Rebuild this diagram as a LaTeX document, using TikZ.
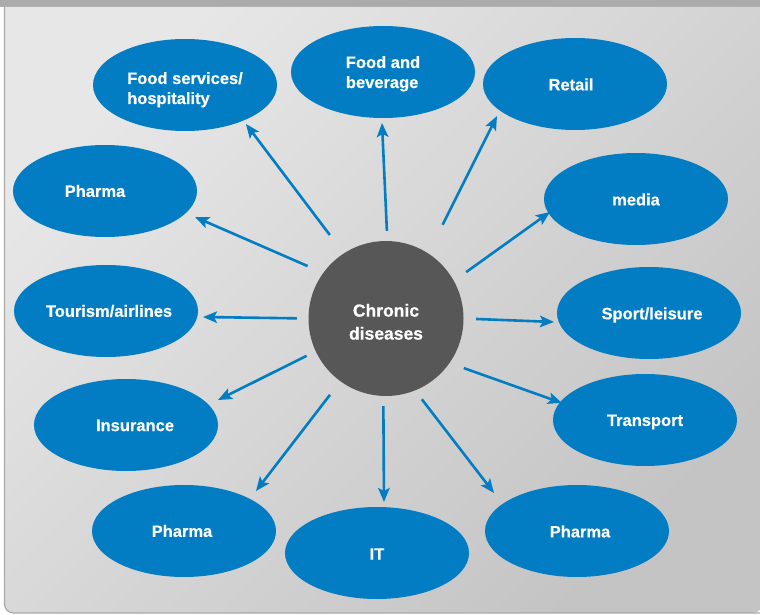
\documentclass[tikz,border=0pt]{standalone}
\usepackage{fontspec}
\setmainfont{Liberation Sans}[BoldFeatures={FakeBold=0.5}]
\usetikzlibrary{arrows.meta,shapes.geometric}
\definecolor{ovalblue}{HTML}{027DC3}
\definecolor{hubgray}{HTML}{575757}
\definecolor{bartop}{HTML}{ABABAB}
\definecolor{bgA}{HTML}{E6E7E6}
\definecolor{bgB}{HTML}{C4C4C4}
\definecolor{edgegray}{HTML}{A9A9A9}
% shifted text: #1 horizontal shift, #2 vertical shift, #3 text (box size kept)
\newcommand\tx[3]{\raisebox{#2}[\height][\depth]{\hspace*{#1}#3\hspace*{-#1}}}
\newcommand\twol[3]{\raisebox{#1}[\height][\depth]{\begin{tabular}{@{}#2@{}}#3\end{tabular}}}
\tikzset{
  oval/.style={ellipse, fill=ovalblue, minimum width=184pt, minimum height=92pt,
    inner sep=0pt, text=white, font=\fontsize{16.5}{20}\selectfont\bfseries},
  hubnode/.style={circle, fill=hubgray, minimum size=155pt, inner sep=0pt,
    text=white, font=\fontsize{17.5}{23}\selectfont\bfseries},
  arr/.style={draw=ovalblue, line width=2.6pt, -{Stealth[length=14pt,width=11.5pt,inset=3pt]}}
}
\begin{document}
\begin{tikzpicture}[x=1pt,y=-1pt]
\useasboundingbox (0,0) rectangle (760,615);
\fill[white] (0,0) rectangle (760,615);
\fill[bartop] (0,0) rectangle (760,7);
\shade[top color=bgA, bottom color=bgB, shading angle=45]
  (4.5,300) [rounded corners=9pt] -- (4.5,613) -- (762,613) [sharp corners] -- (762,7) -- (4.5,7) -- cycle;
\draw[edgegray, line width=1.2pt]
  (4.5,7) [rounded corners=9pt] -- (4.5,613) -- (790,613);

% hub
\node[hubnode] (hub) at (386,318.5) {\twol{-5pt}{c}{Chronic\\diseases}};

% ovals
\node[oval] (fs) at (185,85) {\twol{-5pt}{l}{Food services/\\hospitality}};
\node[oval] (fb) at (383,72) {\twol{-2pt}{l}{Food and\\beverage}};
\node[oval] (rt) at (575,84) {\tx{-4pt}{-0.5pt}{Retail}};
\node[oval] (ph1) at (105,191) {\tx{-10pt}{0pt}{Pharma}};
\node[oval] (md) at (636,199) {\tx{0pt}{-0.5pt}{media}};
\node[oval] (ta) at (106,311) {\tx{3pt}{0pt}{Tourism/airlines}};
\node[oval] (sl) at (649,313) {\tx{3pt}{-2pt}{Sport/leisure}};
\node[oval] (in) at (126,425) {\tx{9pt}{-0.5pt}{Insurance}};
\node[oval] (tr) at (645,420) {\tx{0pt}{-2pt}{Transport}};
\node[oval] (ph2) at (184,531) {\tx{-2pt}{0pt}{Pharma}};
\node[oval] (it) at (377,553) {\tx{0pt}{-1pt}{IT}};
\node[oval] (ph3) at (577,531) {\tx{3pt}{-0.5pt}{Pharma}};

% arrow tips (free ends)
\coordinate (t1) at (246,124);
\coordinate (t2) at (382,123);
\coordinate (t3) at (497,116);
\coordinate (t4) at (195,217);
\coordinate (t5) at (550,212);
\coordinate (t6) at (203,317);
\coordinate (t7) at (554,322);
\coordinate (t8) at (218,400);
\coordinate (t9) at (562,403);
\coordinate (t10) at (256,491);
\coordinate (t11) at (384,502);
\coordinate (t12) at (494,493);

\draw[arr, shorten <=23pt] (hub.123.8) -- (t1);
\draw[arr, shorten <=10pt] (hub.89.3) -- (t2);
\draw[arr, shorten <=32pt] (hub.57.3) -- (t3);
\draw[arr, shorten <=17pt] (hub.144.5) -- (t4);
\draw[arr, shorten <=15pt] (hub.29.3) -- (t5);
\draw[arr, shorten <=11.5pt] (hub.180) -- (t6);
\draw[arr, shorten <=12.5pt] (hub.0) -- (t7);
\draw[arr, shorten <=10pt] (hub.205.4) -- (t8);
\draw[arr, shorten <=15pt] (hub.-35.1) -- (t9);
\draw[arr, shorten <=17pt] (hub.234.3) -- (t10);
\draw[arr, shorten <=10pt] (hub.268.7) -- (t11);
\draw[arr, shorten <=11pt] (hub.292.6) -- (t12);
\end{tikzpicture}
\end{document}
